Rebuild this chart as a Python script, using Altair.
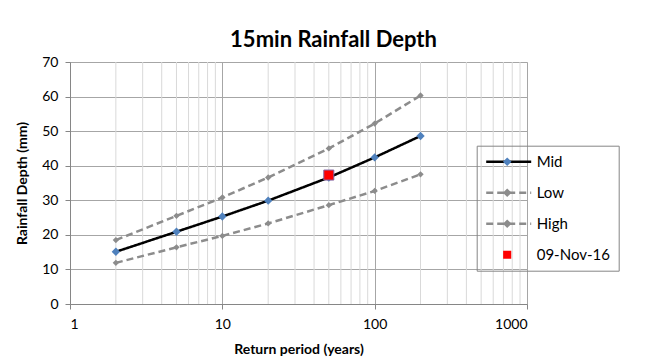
import altair as alt
import pandas as pd

# ---- data ----
return_periods = [2, 5, 10, 20, 50, 100, 200]
mid_vals = [15.1, 20.9, 25.3, 29.9, 36.6, 42.4, 48.6]
low_vals = [11.9, 16.4, 19.7, 23.3, 28.6, 32.7, 37.5]
high_vals = [18.5, 25.5, 30.8, 36.6, 45.0, 52.2, 60.3]
obs_rp = [50]
obs_val = [37.3]
obs_label = "09-Nov-16"
series_names = ["Mid", "Low", "High", obs_label]
marker_names = [s + " marker" for s in series_names]
major_x = [1, 10, 100, 1000]
minor_x = [m * d for d in [1, 10, 100] for m in range(2, 10)]
y_ticks = [0, 10, 20, 30, 40, 50, 60, 70]

FONT = "Lato"
GRID_DARK = "#a6a6a6"
GRID_LIGHT = "#d9d9d9"

rows = []
for name, vals in [("Mid", mid_vals), ("Low", low_vals), ("High", high_vals)]:
    for rp, v in zip(return_periods, vals):
        rows.append({"rp": rp, "depth": v, "series": name, "marker": name + " marker"})
df = pd.DataFrame(rows)
df_obs = pd.DataFrame({"rp": obs_rp, "depth": obs_val, "series": [obs_label],
                       "marker": [obs_label + " marker"]})
df_minor = pd.DataFrame({"rp": minor_x, "depth": [0] * len(minor_x)})

xscale = alt.Scale(type="log", domain=[1, 1000])
yscale = alt.Scale(domain=[0, 70])

# line legend (stroke + dash) and marker legend (fill + shape), stacked on the same spot
stroke_scale = alt.Scale(domain=series_names, range=["#000000", "#8c8c8c", "#8c8c8c", "transparent"])
dash_scale = alt.Scale(domain=series_names, range=[[1, 0], [7, 4], [7, 4], [1, 0]])
fill_scale = alt.Scale(domain=marker_names, range=["#4f81bd", "#8c8c8c", "#8c8c8c", "#ff0000"])
dia_d = "M0,-0.19L0.19,0L0,0.19L-0.19,0Z"
sq_d = "M-0.18,-0.18H0.18V0.18H-0.18Z"
shape_scale = alt.Scale(domain=marker_names, range=[dia_d, dia_d, dia_d, sq_d])

x_axis = alt.Axis(
    values=major_x, labelExpr="datum.value",
    title="Return period (years)", grid=True, gridColor=GRID_DARK,
    domainColor="#868686", tickColor="#868686", tickSize=5,
    labelFont=FONT, labelFontSize=14, labelColor="#000000", labelPadding=8,
    titleFont=FONT, titleFontSize=14, titleFontWeight="bold", titleColor="#000000",
    titleX=228.5, titleY=45, titleBaseline="middle",
)
y_axis = alt.Axis(
    values=y_ticks, title="Rainfall Depth (mm)", labelOverlap=False,
    grid=True, gridColor=GRID_DARK, domainColor="#868686", tickColor="#868686",
    tickSize=5, labelFont=FONT, labelFontSize=14, labelColor="#000000", labelPadding=7,
    titleFont=FONT, titleFontSize=14, titleFontWeight="bold", titleColor="#000000",
    titleX=-48, titleY=121, titleBaseline="middle", titleAngle=-90, titleAlign="center",
)
x_enc = alt.X("rp:Q", scale=xscale, axis=x_axis)
y_enc = alt.Y("depth:Q", scale=yscale, axis=y_axis)

common_leg = dict(
    title=None, orient="none", legendX=406.7, legendY=83.7, padding=8,
    symbolSize=2025, clipHeight=16, rowPadding=15,
    labelFont=FONT, labelFontSize=15, labelColor="#000000", labelOffset=4,
)
line_legend = alt.Legend(
    strokeColor="#868686", fillColor="transparent", symbolStrokeWidth=2.5,
    symbolType="M-1,0H1", zindex=1, **common_leg,
)
marker_legend = alt.Legend(
    strokeColor="transparent", symbolStrokeWidth=0, labelExpr="''", zindex=2, **common_leg,
)

minor = alt.Chart(df_minor).mark_rule(color=GRID_LIGHT, strokeWidth=1).encode(
    x=x_enc, y=alt.value(0), y2=alt.value(242)
)

lines = alt.Chart(df).mark_line(strokeWidth=2.5).encode(
    x=x_enc, y=y_enc,
    stroke=alt.Stroke("series:N", scale=stroke_scale, legend=line_legend),
    strokeDash=alt.StrokeDash("series:N", scale=dash_scale, legend=line_legend),
    detail="series:N",
)

pts = alt.Chart(df).mark_point(shape="diamond", filled=True, opacity=1).encode(
    x=x_enc, y=y_enc,
    fill=alt.Fill("marker:N", scale=fill_scale, legend=marker_legend),
    size=alt.condition(alt.datum.series == "Mid", alt.value(70), alt.value(40)),
)

obs = alt.Chart(df_obs).mark_square(size=100, fill="#ff0000", stroke="#8064a2",
                                   strokeWidth=1, opacity=1).encode(
    x=x_enc, y=y_enc
)

leg_layer = alt.Chart(df_obs).transform_filter("false").mark_point(filled=True, opacity=1).encode(
    x=x_enc, y=y_enc,
    shape=alt.Shape("marker:N", scale=shape_scale, legend=marker_legend),
    fill=alt.Fill("marker:N", scale=fill_scale, legend=marker_legend),
)

chart = alt.layer(minor, lines, pts, obs, leg_layer).properties(
    width=457, height=242,
    autosize=alt.AutoSizeParams(type="none"),
    padding={"left": 62, "top": 54, "right": 118, "bottom": 60},
    title=alt.TitleParams("15min Rainfall Depth", font=FONT, fontSize=22, fontWeight="bold",
                          color="#000000", anchor="middle", dx=35, offset=3),
).configure_view(stroke=None).configure(background="white")

chart.save("out.html", embed_options={"renderer": "svg", "actions": False})
